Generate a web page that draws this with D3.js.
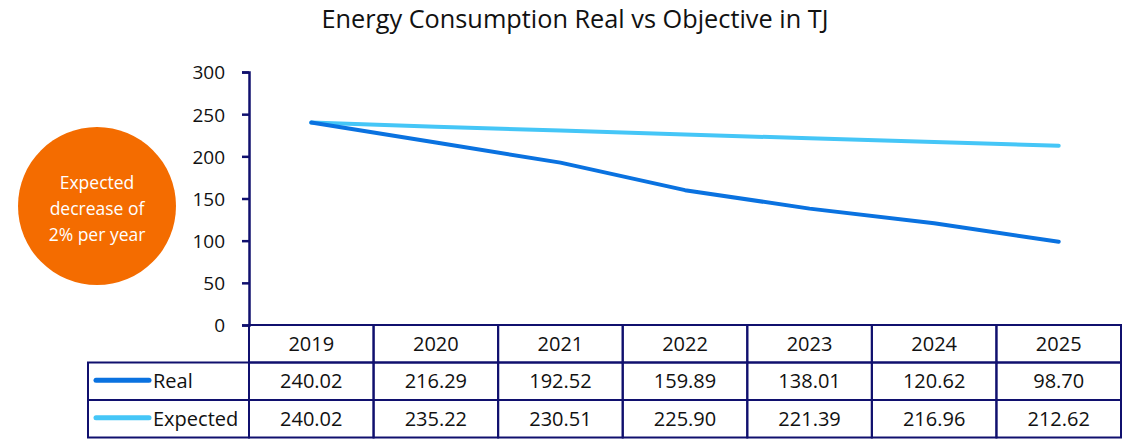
<!DOCTYPE html>
<html>
<head>
<meta charset="utf-8">
<style>
  body { margin: 0; background: #fff; }
  svg text { font-family: "Open Sans", "Noto Sans", sans-serif; fill: #111; }
</style>
</head>
<body>
<script src="https://cdn.jsdelivr.net/npm/d3@7"></script>
<script>
// chart data
var years = ["2019", "2020", "2021", "2022", "2023", "2024", "2025"];
var realValues = [240.02, 216.29, 192.52, 159.89, 138.01, 120.62, 98.70];
var expectedValues = [240.02, 235.22, 230.51, 225.90, 221.39, 216.96, 212.62];
var yTicks = [0, 50, 100, 150, 200, 250, 300];
var seriesNames = ["Real", "Expected"];

var width = 1135, height = 439;
var plotLeft = 249, plotRight = 1121;
var plotTop = 72, plotBottom = 325;
var rowH = 37.5;
var legendLeft = 88;
var navy = "#10106e";
var colors = ["#0a72e0", "#45c6f7"];

var svg = d3.select("body").append("svg")
    .attr("width", width)
    .attr("height", height);

// title
svg.append("text")
    .attr("x", 575).attr("y", 28)
    .attr("text-anchor", "middle")
    .style("font-size", "25.3px")
    .text("Energy Consumption Real vs Objective in TJ");

var x = d3.scaleBand().domain(years).range([plotLeft, plotRight]);
var y = d3.scaleLinear().domain([0, 300]).range([plotBottom, plotTop]);

// y axis
var yAxis = svg.append("g")
    .attr("transform", "translate(" + plotLeft + ",0)")
    .call(d3.axisLeft(y).tickValues(yTicks).tickSize(7).tickPadding(17));
yAxis.select(".domain").attr("stroke", navy).attr("stroke-width", 2.5);
yAxis.selectAll(".tick line").attr("stroke", navy).attr("stroke-width", 2.5);
yAxis.selectAll(".tick text")
    .style("font-size", "19px")
    .style("fill", "#111")
    .attr("dy", "0.36em");

// lines
var line = d3.line()
    .x(function(d, i) { return x(years[i]) + x.bandwidth() / 2; })
    .y(function(d) { return y(d); });

[expectedValues, realValues].forEach(function(vals, k) {
    svg.append("path")
        .datum(vals)
        .attr("fill", "none")
        .attr("stroke", colors[1 - k])
        .attr("stroke-width", 4)
        .attr("stroke-linejoin", "round")
        .attr("stroke-linecap", "round")
        .attr("d", line);
});

// data table
var table = svg.append("g");
var rows = [realValues, expectedValues];

// header row
years.forEach(function(yr) {
    table.append("rect")
        .attr("x", x(yr)).attr("y", plotBottom)
        .attr("width", x.bandwidth()).attr("height", rowH)
        .attr("fill", "none").attr("stroke", navy).attr("stroke-width", 2);
    table.append("text")
        .attr("x", x(yr) + x.bandwidth() / 2)
        .attr("y", plotBottom + rowH / 2)
        .attr("dy", "0.36em")
        .attr("text-anchor", "middle")
        .style("font-size", "20px")
        .text(yr);
});

rows.forEach(function(vals, r) {
    var top = plotBottom + rowH * (r + 1);
    table.append("rect")
        .attr("x", legendLeft).attr("y", top)
        .attr("width", plotLeft - legendLeft).attr("height", rowH)
        .attr("fill", "none").attr("stroke", navy).attr("stroke-width", 2);
    table.append("line")
        .attr("x1", legendLeft + 8).attr("x2", legendLeft + 61)
        .attr("y1", top + rowH / 2 - 1).attr("y2", top + rowH / 2 - 1)
        .attr("stroke", colors[r]).attr("stroke-width", 5)
        .attr("stroke-linecap", "round");
    table.append("text")
        .attr("x", legendLeft + 65)
        .attr("y", top + rowH / 2)
        .attr("dy", "0.36em")
        .style("font-size", "20px")
        .text(seriesNames[r]);
    vals.forEach(function(v, i) {
        table.append("rect")
            .attr("x", x(years[i])).attr("y", top)
            .attr("width", x.bandwidth()).attr("height", rowH)
            .attr("fill", "none").attr("stroke", navy).attr("stroke-width", 2);
        table.append("text")
            .attr("x", x(years[i]) + x.bandwidth() / 2)
            .attr("y", top + rowH / 2)
            .attr("dy", "0.36em")
            .attr("text-anchor", "middle")
            .style("font-size", "20px")
            .text(v.toFixed(2));
    });
});

// note bubble
var note = svg.append("g").attr("transform", "translate(97,206)");
note.append("circle").attr("r", 79).attr("fill", "#f46c00");
["Expected", "decrease of", "2% per year"].forEach(function(t, i) {
    note.append("text")
        .attr("y", -23 + i * 26)
        .attr("dy", "0.36em")
        .attr("text-anchor", "middle")
        .style("font-size", "17.5px")
        .style("fill", "#fff")
        .text(t);
});
</script>
</body>
</html>
